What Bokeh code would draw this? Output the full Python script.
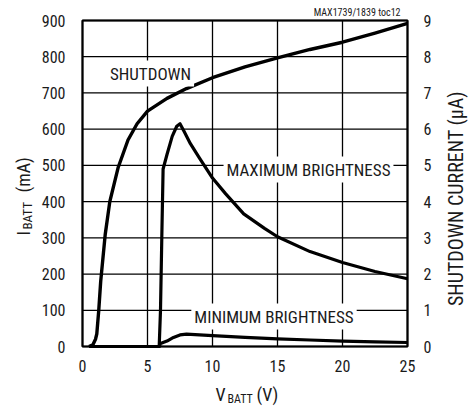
import math
from bokeh.plotting import figure
from bokeh.models import Range1d, LinearAxis, FixedTicker, Label
from bokeh.embed import file_html
from bokeh.resources import INLINE

# ---- data ----
shut_v = [0.5, 0.8, 1.0, 1.1, 1.25, 1.4, 1.75, 2.1, 2.75, 3.5, 4.2, 5.0, 6.5, 8.0, 10.0, 12.5, 15.0, 17.5, 20.0, 22.5, 25.0]
shut_ua = [0.0, 0.05, 0.2, 0.35, 1.0, 1.8, 3.1, 4.0, 4.95, 5.7, 6.15, 6.5, 6.85, 7.12, 7.42, 7.72, 7.97, 8.2, 8.4, 8.65, 8.92]

max_v = [0.5, 5.9, 6.0, 6.1, 6.2, 6.5, 6.9, 7.25, 7.5, 7.8, 8.3, 9.0, 10.0, 11.0, 12.4, 14.0, 15.0, 17.5, 20.0, 22.5, 25.0]
max_ma = [0, 0, 100, 300, 490, 530, 580, 608, 615, 595, 560, 520, 465, 422, 366, 326, 303, 262, 232, 207, 187]

min_v = [0.5, 5.9, 6.0, 6.5, 7.0, 7.5, 8.0, 9.0, 10.0, 12.5, 15.0, 17.5, 20.0, 22.5, 25.0]
min_ma = [0, 0, 8, 15, 25, 32, 34, 32, 30, 25, 21, 18, 15, 13, 11]

x_ticks = [0, 5, 10, 15, 20, 25]
y_ticks = [0, 100, 200, 300, 400, 500, 600, 700, 800, 900]
y2_ticks = [0, 1, 2, 3, 4, 5, 6, 7, 8, 9]

FONT = "Roboto Condensed, Liberation Sans Narrow, Liberation Sans"
INK = "#1a1a1a"

# ---- layout (pixels) ----
W, H = 470, 406
BOX_L, BOX_R, BOX_T, BOX_B = 82, 407, 20, 346
XMIN, XMAX = x_ticks[0], x_ticks[-1]
YMIN, YMAX = y_ticks[0], y_ticks[-1]
KX = (BOX_R - BOX_L) / (XMAX - XMIN)
KY = (BOX_B - BOX_T) / (YMAX - YMIN)
x_lo = XMIN - BOX_L / KX
x_hi = XMAX + (W - BOX_R) / KX
y_hi = YMAX + BOX_T / KY
y_lo = YMIN - (H - BOX_B) / KY
SCALE2 = (y2_ticks[-1] - y2_ticks[0]) / (YMAX - YMIN)

p = figure(width=W, height=H, output_backend="svg", toolbar_location=None,
           x_range=Range1d(x_lo, x_hi), y_range=Range1d(y_lo, y_hi),
           min_border=0, x_axis_type=None, y_axis_type=None)
p.extra_y_ranges = {"ua": Range1d(y_lo * SCALE2, y_hi * SCALE2)}
p.outline_line_color = None
p.background_fill_color = "white"
p.border_fill_color = "white"
p.xgrid.visible = False
p.ygrid.visible = False

def style_axis(ax, standoff):
    ax.axis_line_color = None
    ax.major_tick_line_color = None
    ax.minor_tick_line_color = None
    ax.major_tick_in = 0
    ax.major_tick_out = 0
    ax.major_label_text_font = FONT
    ax.major_label_text_font_size = "16px"
    ax.major_label_text_color = INK
    ax.major_label_standoff = standoff

ax_b = LinearAxis(ticker=FixedTicker(ticks=x_ticks), fixed_location=YMIN)
style_axis(ax_b, 13)
p.add_layout(ax_b, "below")

ax_l = LinearAxis(ticker=FixedTicker(ticks=y_ticks), fixed_location=XMIN)
style_axis(ax_l, 17)
p.add_layout(ax_l, "left")

ax_r = LinearAxis(y_range_name="ua", ticker=FixedTicker(ticks=y2_ticks), fixed_location=XMAX)
style_axis(ax_r, 16)
p.add_layout(ax_r, "right")

# grid lines, drawn from the tick lists
p.segment(x0=x_ticks, y0=[YMIN] * len(x_ticks), x1=x_ticks, y1=[YMAX] * len(x_ticks),
          line_color="black", line_width=1.3)
p.segment(x0=[XMIN] * len(y_ticks), y0=y_ticks, x1=[XMAX] * len(y_ticks), y1=y_ticks,
          line_color="black", line_width=1.3)

# curves
p.line(shut_v, shut_ua, y_range_name="ua", line_color="black", line_width=3.4, line_join="round")
p.line(max_v, max_ma, line_color="black", line_width=3.2, line_join="round")
p.line(min_v, min_ma, line_color="black", line_width=3.2, line_join="round")

# helpers: window px -> data units
def dx(px):
    return XMIN + (px - BOX_L) / KX

def dy(py):
    return YMIN + (BOX_B - py) / KY

def lab(text, px, py, size, align="left", angle=0.0, bg=False):
    # (px, py) is the wanted baseline point; Bokeh draws glyphs ~0.35em lower
    s = float(size.replace("px", ""))
    if angle == 0.0:
        py = py - 0.35 * s
    else:
        px = px - 0.35 * s
    kw = {}
    if bg:
        kw = dict(background_fill_color="white", background_fill_alpha=1.0, padding=3)
    l = Label(x=dx(px), y=dy(py), text=text, text_font=FONT, text_font_size=size,
              text_color=INK, text_align=align, text_baseline="alphabetic",
              angle=angle, **kw)
    p.add_layout(l)

# in-plot labels (white boxes interrupt the grid)
lab("SHUTDOWN", 150, 79, "17px", align="center", bg=True)
lab("MAXIMUM BRIGHTNESS", 308, 175, "17px", align="center", bg=True)
lab("MINIMUM BRIGHTNESS", 273.5, 322, "17px", align="center", bg=True)

# frame drawn on top of grid
p.rect(x=[(XMIN + XMAX) / 2], y=[(YMIN + YMAX) / 2], width=[XMAX - XMIN], height=[YMAX - YMIN],
       fill_color=None, line_color="black", line_width=2.2)

# note
lab("MAX1739/1839 toc12", 400, 15, "10px", align="right")

# x axis title
lab("V", 215, 400, "18px")
lab("BATT", 227, 403, "12px")
lab("(V)", 256, 400, "18px")

# left axis title (rotated)
A = math.pi / 2
lab("I", 29, 235, "18px", angle=A)
lab("BATT", 32, 229, "13px", angle=A)
lab("(mA)", 29, 192, "18px", angle=A)

# right axis title (rotated)
lab("SHUTDOWN CURRENT (\u03bcA)", 462, 198, "20px", align="center", angle=A)

open("out.html", "w").write(file_html(p, INLINE))
